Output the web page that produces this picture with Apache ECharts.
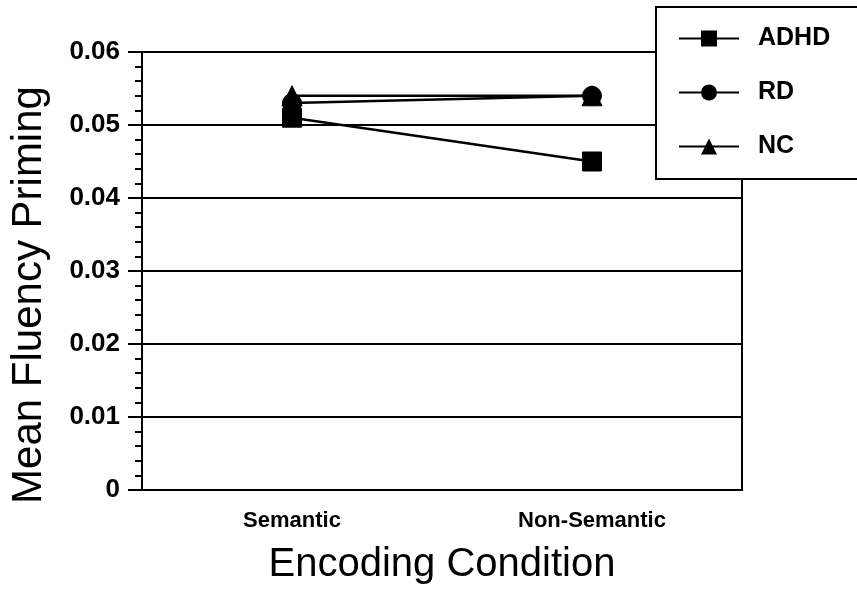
<!DOCTYPE html>
<html>
<head>
<meta charset="utf-8">
<script src="https://cdn.jsdelivr.net/npm/echarts@6/dist/echarts.min.js"></script>
<style>
html,body{margin:0;padding:0;background:#fff;}
#c{width:857px;height:593px;}
</style>
</head>
<body>
<div id="c"></div>
<script>
var categories = ['Semantic', 'Non-Semantic'];
var adhd = [0.051, 0.045];
var rd = [0.053, 0.054];
var nc = [0.054, 0.054];
var yTicks = [0, 0.01, 0.02, 0.03, 0.04, 0.05, 0.06];

var FONT = '"Liberation Sans", Arial, Helvetica, sans-serif';
var chart = echarts.init(document.getElementById('c'));

function ser(name, data, symbol, size) {
  return {
    name: name, type: 'line', data: data,
    symbol: symbol, symbolSize: size,
    lineStyle: {color: '#000', width: 2.5},
    itemStyle: {color: '#000', borderColor: '#000'},
    emphasis: {disabled: true},
    z: 3
  };
}

chart.setOption({
  animation: false,
  backgroundColor: '#fff',
  grid: {left: 141, right: 115, top: 52, bottom: 103, show: true, borderColor: '#000', borderWidth: 2, backgroundColor: 'transparent'},
  legend: {
    left: 656, top: 7,
    orient: 'vertical',
    data: ['ADHD', 'RD', 'NC'],
    itemWidth: 60, itemHeight: 20, itemGap: 29,
    padding: [19, 40, 20, 22],
    backgroundColor: '#fff',
    borderColor: '#000', borderWidth: 2,
    textStyle: {fontFamily: FONT, fontSize: 25, fontWeight: 'bold', color: '#000', padding: [0, 0, 0, 14]},
    z: 10
  },
  xAxis: {
    type: 'category', data: categories, boundaryGap: true,
    axisLine: {show: true, lineStyle: {color: '#000', width: 2}},
    axisTick: {show: false},
    axisLabel: {color: '#000', fontFamily: FONT, fontSize: 22, fontWeight: 'bold', margin: 20},
    name: 'Encoding Condition', nameLocation: 'middle', nameGap: 55,
    nameTextStyle: {color: '#000', fontFamily: FONT, fontSize: 40}
  },
  yAxis: {
    type: 'value', min: 0, max: 0.06, interval: 0.01,
    axisLine: {show: true, lineStyle: {color: '#000', width: 2}},
    axisTick: {show: true, length: 14, lineStyle: {color: '#000', width: 2}},
    minorTick: {show: true, splitNumber: 5, length: 7, lineStyle: {color: '#000', width: 2}},
    splitLine: {show: true, lineStyle: {color: '#000', width: 2}},
    axisLabel: {color: '#000', fontFamily: FONT, fontSize: 26, fontWeight: 'bold', margin: 22,
      formatter: function (v) { var i = yTicks.indexOf(Math.round(v*100)/100); return i === 0 ? '0' : yTicks[i].toFixed(2); }},
    name: 'Mean Fluency Priming', nameLocation: 'middle', nameGap: 92, nameRotate: 90,
    nameTextStyle: {color: '#000', fontFamily: FONT, fontSize: 42, padding: [0, 48, 0, 0]}
  },
  series: [
    ser('ADHD', adhd, 'rect', 19),
    ser('RD', rd, 'circle', 19),
    ser('NC', nc, 'triangle', 20)
  ]
});
</script>
</body>
</html>
